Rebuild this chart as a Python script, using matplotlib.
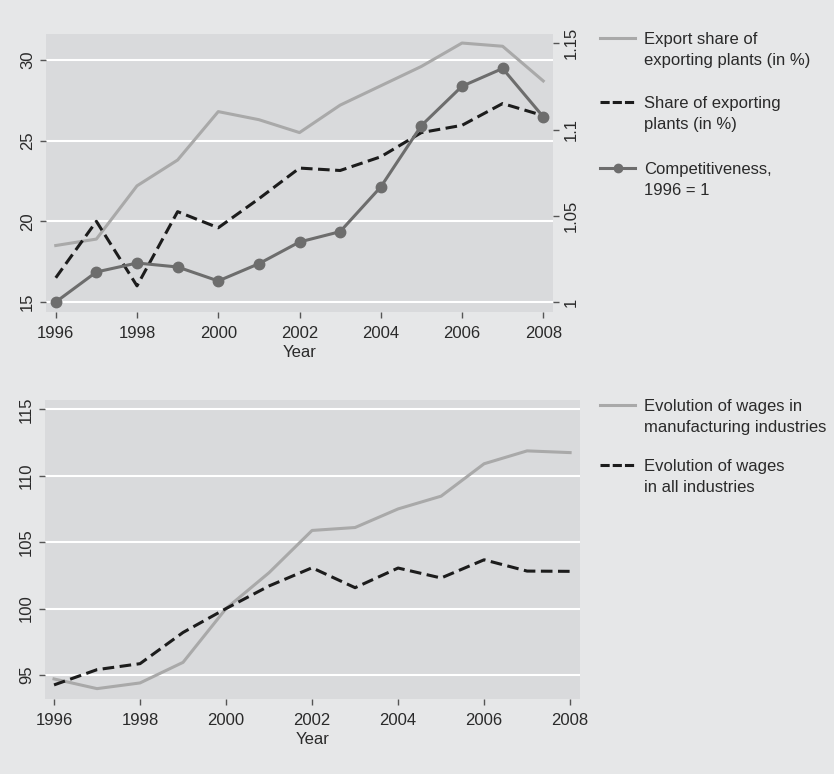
import matplotlib
matplotlib.use("Agg")
import matplotlib.pyplot as plt
from matplotlib.lines import Line2D

plt.rcParams['font.family'] = ['Liberation Sans', 'DejaVu Sans']

# data
years = list(range(1996, 2009))
export_share = [18.5, 18.9, 22.2, 23.8, 26.8, 26.3, 25.5, 27.2, 28.4, 29.6, 31.05, 30.85, 28.7]
share_exporting = [16.5, 20.0, 16.0, 20.6, 19.6, 21.4, 23.3, 23.15, 24.0, 25.5, 25.95, 27.3, 26.55]
competitiveness = [1.0, 1.0174, 1.0226, 1.0203, 1.0122, 1.0222, 1.0348, 1.0408, 1.0667, 1.1023, 1.1251, 1.1354, 1.1074]
wages_manuf = [94.7, 93.97, 94.4, 95.95, 100.0, 102.7, 105.88, 106.1, 107.5, 108.46, 110.9, 111.87, 111.74]
wages_all = [94.25, 95.4, 95.85, 98.2, 100.0, 101.7, 103.07, 101.57, 103.05, 102.3, 103.67, 102.82, 102.8]

x_ticks = [1996, 1998, 2000, 2002, 2004, 2006, 2008]
top_labels = ["Export share of\nexporting plants (in %)",
              "Share of exporting\nplants (in %)",
              "Competitiveness,\n1996 = 1"]
bottom_labels = ["Evolution of wages in\nmanufacturing industries",
                 "Evolution of wages\nin all industries"]

BG = "#e6e7e8"
PANEL = "#d9dadc"
LIGHT = "#a9a9a9"
DARK = "#1c1c1c"
MID = "#6d6d6d"
TXT = "#2a2a2a"
FS = 12
W, H = 834, 774

fig = plt.figure(figsize=(W / 100, H / 100), dpi=100, facecolor=BG)


def style_axes(ax):
    ax.set_facecolor(PANEL)
    for s in ax.spines.values():
        s.set_visible(False)
    ax.tick_params(axis="both", direction="out", length=4, width=1, color="#555555",
                   labelsize=FS, labelcolor=TXT, pad=4)
    ax.tick_params(axis="x", pad=6)
    ax.tick_params(axis="y", labelrotation=90)
    ax.grid(axis="y", color="white", linewidth=1.5)
    ax.grid(axis="x", visible=False)
    ax.set_axisbelow(True)
    ax.set_xticks(x_ticks)
    ax.set_xlabel("Year", fontsize=FS, color=TXT, labelpad=3)


def legend_entry(y_px, label, marker=None, **line_kw):
    # handle sits next to the first text line, like in the original
    yf = 1 - y_px / H
    fig.add_artist(Line2D([600 / W, 635 / W], [yf, yf], transform=fig.transFigure, **line_kw))
    if marker:
        fig.add_artist(Line2D([617.5 / W], [yf], transform=fig.transFigure,
                              color=line_kw["color"], marker=marker, markersize=6, lw=0))
    fig.text(644 / W, yf + 6 / H, label, fontsize=FS, color=TXT, va="top", ha="left",
             linespacing=1.5)


# top panel
ax1 = fig.add_axes([46 / W, 1 - 312 / H, 507 / W, 278 / H])
style_axes(ax1)
ax1.plot(years, export_share, color=LIGHT, lw=2.2)
ax1.plot(years, share_exporting, color=DARK, lw=2.2, dashes=(3.8, 1.8))
ax1.set_xlim(1995.76, 2008.24)
ax1.set_ylim(14.38, 31.61)
ax1.set_yticks([15, 20, 25, 30])
for lab in ax1.get_yticklabels():
    lab.set_va("center")

ax1r = ax1.twinx()
for s in ax1r.spines.values():
    s.set_visible(False)
ax1r.plot(years, competitiveness, color=MID, lw=2.2, marker="o", markersize=7.5)
ax1r.set_ylim(0.9942, 1.1554)
ax1r.set_yticks([1, 1.05, 1.1, 1.15])
ax1r.set_yticklabels(["1", "1.05", "1.1", "1.15"])
ax1r.tick_params(axis="y", direction="out", length=4, width=1, color="#555555",
                 labelsize=FS, labelcolor=TXT, pad=4, labelrotation=90)
for lab in ax1r.get_yticklabels():
    lab.set_va("center")

legend_entry(38, top_labels[0], color=LIGHT, lw=2.2)
legend_entry(102, top_labels[1], color=DARK, lw=2.2, dashes=(3.0, 1.0))
legend_entry(168, top_labels[2], marker="o", color=MID, lw=2.2)

# bottom panel
ax2 = fig.add_axes([45 / W, 1 - 699 / H, 535 / W, 299 / H])
style_axes(ax2)
ax2.plot(years, wages_manuf, color=LIGHT, lw=2.2)
ax2.plot(years, wages_all, color=DARK, lw=2.2, dashes=(3.8, 1.8))
ax2.set_xlim(1995.79, 2008.23)
ax2.set_ylim(93.19, 115.7)
ax2.set_yticks([95, 100, 105, 110, 115])
for lab in ax2.get_yticklabels():
    lab.set_va("center")

legend_entry(405, bottom_labels[0], color=LIGHT, lw=2.2)
legend_entry(465, bottom_labels[1], color=DARK, lw=2.2, dashes=(3.0, 1.0))

fig.savefig("out.png", dpi=100, facecolor=BG)
